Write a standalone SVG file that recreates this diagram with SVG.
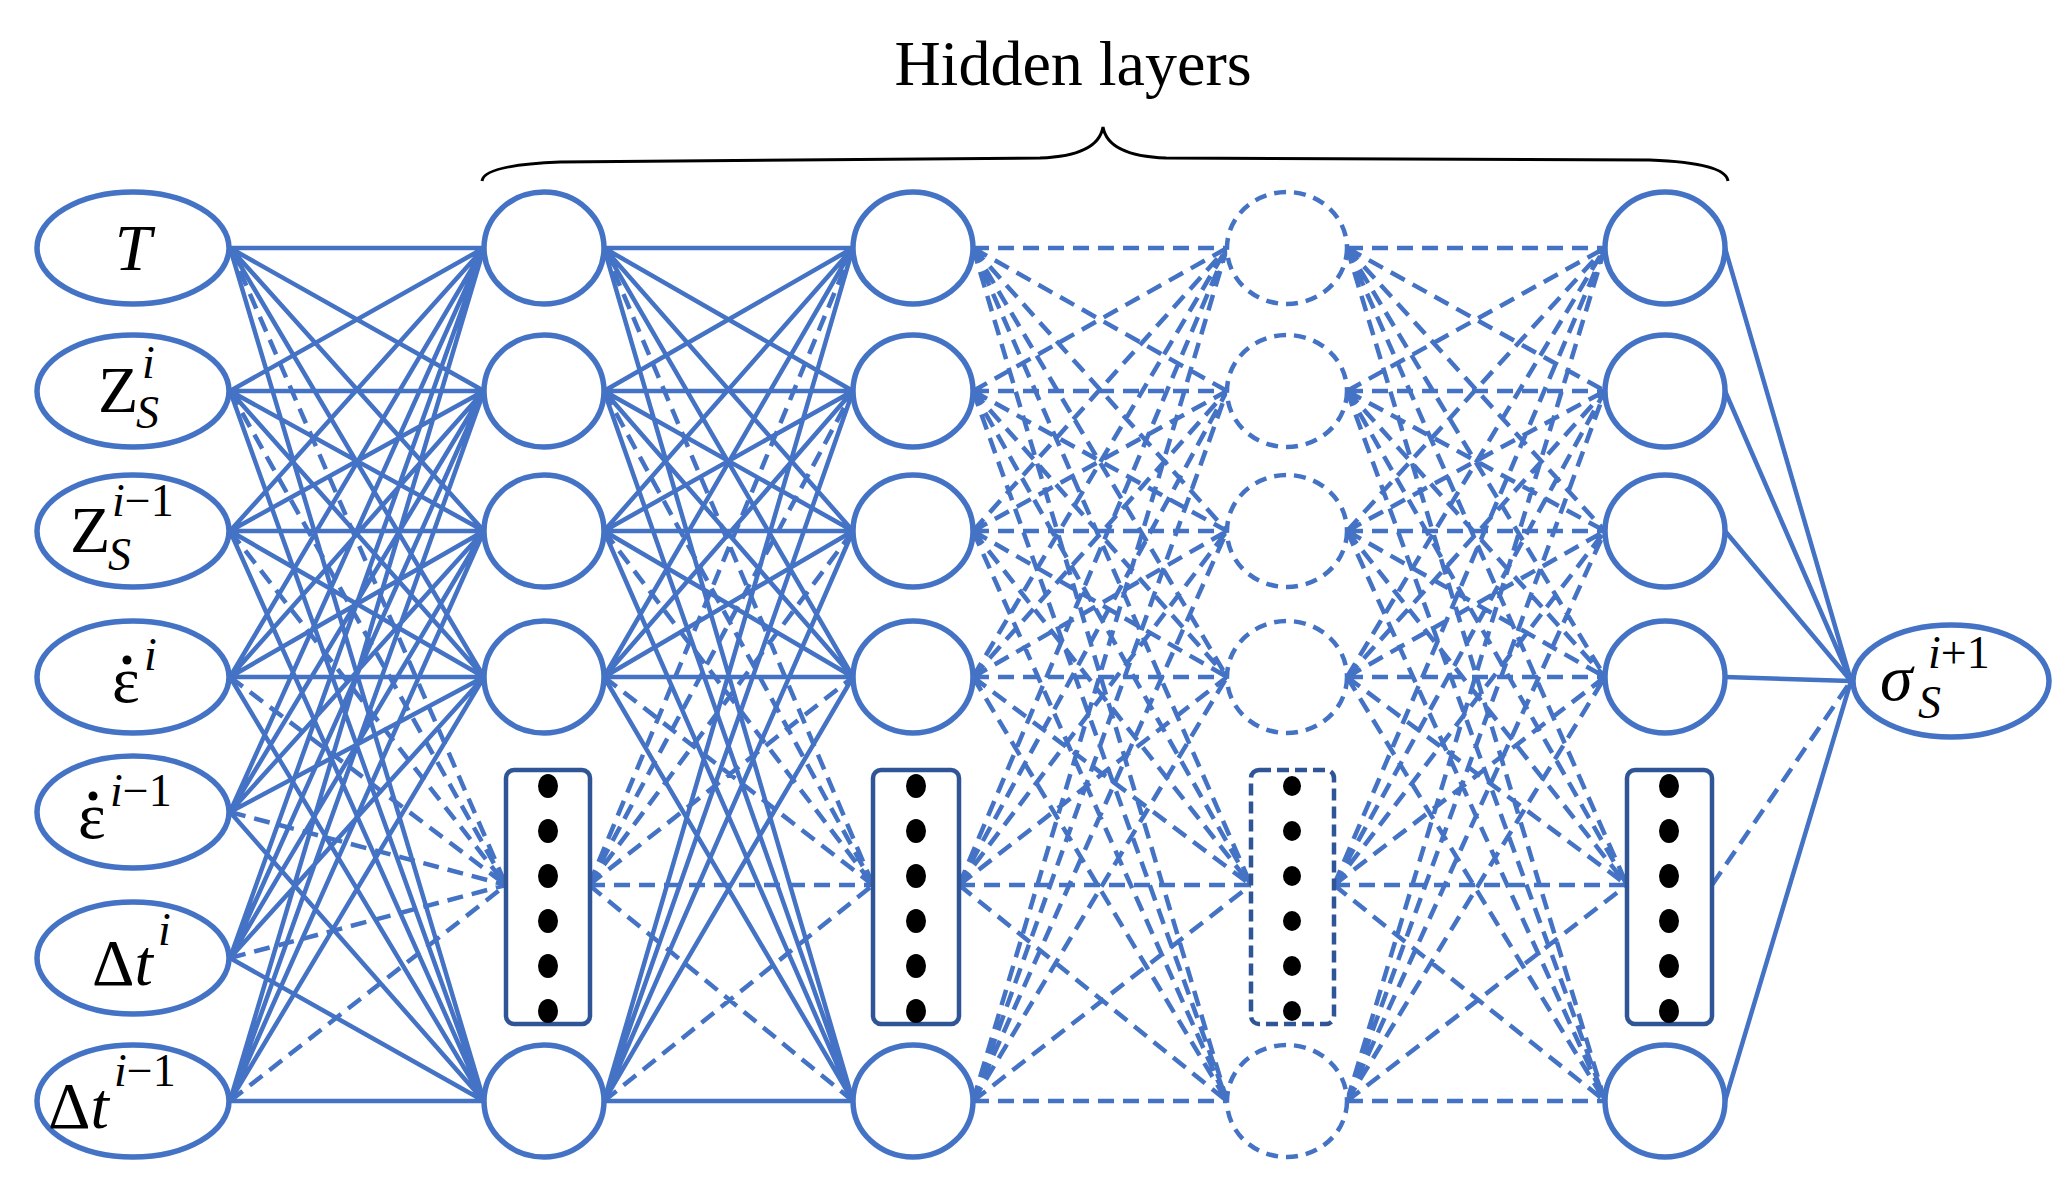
<svg xmlns="http://www.w3.org/2000/svg" width="2070" height="1190" viewBox="0 0 2070 1190">
<style>
.s{fill:none;stroke:#4472C4;stroke-width:4.5}
.d{fill:none;stroke:#4472C4;stroke-width:4.5;stroke-dasharray:16 9}
.n{fill:#fff;stroke:#4472C4;stroke-width:5.5}
.nd{fill:#fff;stroke:#4472C4;stroke-width:4.5;stroke-dasharray:12 8}
.b{fill:#fff;stroke:#2F5597;stroke-width:4.5}
.bd{fill:#fff;stroke:#2F5597;stroke-width:4.5;stroke-dasharray:12 6}
text{font-family:"Liberation Serif","DejaVu Serif",serif;fill:#000}
.lab{font-size:66px}
.sm{font-size:46px}
.it{font-style:italic}
</style>
<rect width="2070" height="1190" fill="#fff"/>
<g id="connectors">
<path class="s" d="M230 248L484 248M230 248L484 391M230 248L484 531M230 248L484 677M230 248L484 1101
M230 391L484 248M230 391L484 391M230 391L484 531M230 391L484 677M230 391L484 1101
M230 531L484 248M230 531L484 391M230 531L484 531M230 531L484 677M230 531L484 1101
M230 677L484 248M230 677L484 391M230 677L484 531M230 677L484 677M230 677L484 1101
M230 812L484 248M230 812L484 391M230 812L484 531M230 812L484 677M230 812L484 1101
M230 958L484 248M230 958L484 391M230 958L484 531M230 958L484 677M230 958L484 1101
M230 1101L484 248M230 1101L484 391M230 1101L484 531M230 1101L484 677M230 1101L484 1101"/>
<path class="d" d="M230 248L506 885M230 391L506 885M230 531L506 885M230 677L506 885M230 812L506 885M230 958L506 885M230 1101L506 885"/>
<path class="s" d="M604 248L853 248M604 248L853 391M604 248L853 531M604 248L853 677M604 248L853 1101
M604 391L853 248M604 391L853 391M604 391L853 531M604 391L853 677M604 391L853 1101
M604 531L853 248M604 531L853 391M604 531L853 531M604 531L853 677M604 531L853 1101
M604 677L853 248M604 677L853 391M604 677L853 531M604 677L853 677M604 677L853 1101
M604 1101L853 248M604 1101L853 391M604 1101L853 531M604 1101L853 677M604 1101L853 1101"/>
<path class="d" d="M604 248L873 885M604 391L873 885M604 531L873 885M604 677L873 885M604 1101L873 885M589 885L873 885
M589 885L853 248M589 885L853 391M589 885L853 531M589 885L853 677M589 885L853 1101"/>
<path class="d" d="M973 248L1227 248M973 248L1227 391M973 248L1227 531M973 248L1227 677M973 248L1227 1101M973 248L1251 885
M973 391L1227 248M973 391L1227 391M973 391L1227 531M973 391L1227 677M973 391L1227 1101M973 391L1251 885
M973 531L1227 248M973 531L1227 391M973 531L1227 531M973 531L1227 677M973 531L1227 1101M973 531L1251 885
M973 677L1227 248M973 677L1227 391M973 677L1227 531M973 677L1227 677M973 677L1227 1101M973 677L1251 885
M973 1101L1227 248M973 1101L1227 391M973 1101L1227 531M973 1101L1227 677M973 1101L1227 1101M973 1101L1251 885
M959 885L1227 248M959 885L1227 391M959 885L1227 531M959 885L1227 677M959 885L1227 1101M959 885L1251 885"/>
<path class="d" d="M1347 248L1605 248M1347 248L1605 391M1347 248L1605 531M1347 248L1605 677M1347 248L1605 1101M1347 248L1627 885
M1347 391L1605 248M1347 391L1605 391M1347 391L1605 531M1347 391L1605 677M1347 391L1605 1101M1347 391L1627 885
M1347 531L1605 248M1347 531L1605 391M1347 531L1605 531M1347 531L1605 677M1347 531L1605 1101M1347 531L1627 885
M1347 677L1605 248M1347 677L1605 391M1347 677L1605 531M1347 677L1605 677M1347 677L1605 1101M1347 677L1627 885
M1347 1101L1605 248M1347 1101L1605 391M1347 1101L1605 531M1347 1101L1605 677M1347 1101L1605 1101M1347 1101L1627 885
M1334 885L1605 248M1334 885L1605 391M1334 885L1605 531M1334 885L1605 677M1334 885L1605 1101M1334 885L1627 885"/>
<path class="s" d="M1725 248L1851 681M1725 391L1851 681M1725 531L1851 681M1725 677L1851 681M1725 1101L1851 681"/>
<path class="d" d="M1712 885L1851 681"/>
</g>
<g id="brace"><path d="M482 181Q484 165 560 162L1040 158Q1098 156 1103 127Q1108 156 1166 158L1650 160Q1726 163 1728 181" fill="none" stroke="#000" stroke-width="3"/>
<text x="1073" y="85" font-size="64" text-anchor="middle">Hidden layers</text></g>
<g id="in_T"><ellipse class="n" cx="133" cy="248" rx="96" ry="56"/><text class="lab it" x="133" y="270" text-anchor="middle">T</text></g>
<g id="in_Z"><ellipse class="n" cx="133" cy="391" rx="96" ry="56"/><text class="lab" x="98" y="412">Z</text><text class="sm it" x="142" y="378">i</text><text class="sm it" x="136" y="428">S</text></g>
<g id="in_Z1"><ellipse class="n" cx="133" cy="531" rx="96" ry="56"/><text class="lab" x="70" y="552">Z</text><text class="sm" x="112" y="516"><tspan class="it">i</tspan>−1</text><text class="sm it" x="108" y="570">S</text></g>
<g id="in_e"><ellipse class="n" cx="133" cy="677" rx="96" ry="56"/><text class="lab" x="112" y="702">ε</text><circle cx="127" cy="660" r="4.5" fill="#000"/><text class="sm it" x="144" y="670">i</text></g>
<g id="in_e1"><ellipse class="n" cx="133" cy="812" rx="96" ry="56"/><text class="lab" x="78" y="838">ε</text><circle cx="93" cy="796" r="4.5" fill="#000"/><text class="sm" x="110" y="806"><tspan class="it">i</tspan>−1</text></g>
<g id="in_t"><ellipse class="n" cx="133" cy="958" rx="96" ry="56"/><text class="lab" x="92" y="985">Δ<tspan class="it">t</tspan></text><text class="sm it" x="158" y="945">i</text></g>
<g id="in_t1"><ellipse class="n" cx="133" cy="1101" rx="96" ry="56"/><text class="lab" x="48" y="1128">Δ<tspan class="it">t</tspan></text><text class="sm" x="114" y="1086"><tspan class="it">i</tspan>−1</text></g>
<g id="h1"><ellipse class="n" cx="544" cy="248" rx="60" ry="56"/><ellipse class="n" cx="544" cy="391" rx="60" ry="56"/><ellipse class="n" cx="544" cy="531" rx="60" ry="56"/><ellipse class="n" cx="544" cy="677" rx="60" ry="56"/><ellipse class="n" cx="544" cy="1101" rx="60" ry="56"/>
<rect class="b" x="506" y="770" width="84" height="254" rx="8"/>
<g fill="#000"><ellipse cx="548" cy="786" rx="10" ry="12"/><ellipse cx="548" cy="831" rx="10" ry="12"/><ellipse cx="548" cy="876" rx="10" ry="12"/><ellipse cx="548" cy="921" rx="10" ry="12"/><ellipse cx="548" cy="966" rx="10" ry="12"/><ellipse cx="548" cy="1011" rx="10" ry="12"/></g></g>
<g id="h2"><ellipse class="n" cx="913" cy="248" rx="60" ry="56"/><ellipse class="n" cx="913" cy="391" rx="60" ry="56"/><ellipse class="n" cx="913" cy="531" rx="60" ry="56"/><ellipse class="n" cx="913" cy="677" rx="60" ry="56"/><ellipse class="n" cx="913" cy="1101" rx="60" ry="56"/>
<rect class="b" x="873" y="770" width="86" height="254" rx="8"/>
<g fill="#000"><ellipse cx="916" cy="786" rx="10" ry="12"/><ellipse cx="916" cy="831" rx="10" ry="12"/><ellipse cx="916" cy="876" rx="10" ry="12"/><ellipse cx="916" cy="921" rx="10" ry="12"/><ellipse cx="916" cy="966" rx="10" ry="12"/><ellipse cx="916" cy="1011" rx="10" ry="12"/></g></g>
<g id="h3"><ellipse class="nd" cx="1287" cy="248" rx="60" ry="56"/><ellipse class="nd" cx="1287" cy="391" rx="60" ry="56"/><ellipse class="nd" cx="1287" cy="531" rx="60" ry="56"/><ellipse class="nd" cx="1287" cy="677" rx="60" ry="56"/><ellipse class="nd" cx="1287" cy="1101" rx="60" ry="56"/>
<rect class="bd" x="1251" y="770" width="83" height="254" rx="8"/>
<g fill="#000"><ellipse cx="1292" cy="786" rx="9" ry="10"/><ellipse cx="1292" cy="831" rx="9" ry="10"/><ellipse cx="1292" cy="876" rx="9" ry="10"/><ellipse cx="1292" cy="921" rx="9" ry="10"/><ellipse cx="1292" cy="966" rx="9" ry="10"/><ellipse cx="1292" cy="1011" rx="9" ry="10"/></g></g>
<g id="h4"><ellipse class="n" cx="1665" cy="248" rx="60" ry="56"/><ellipse class="n" cx="1665" cy="391" rx="60" ry="56"/><ellipse class="n" cx="1665" cy="531" rx="60" ry="56"/><ellipse class="n" cx="1665" cy="677" rx="60" ry="56"/><ellipse class="n" cx="1665" cy="1101" rx="60" ry="56"/>
<rect class="b" x="1627" y="770" width="85" height="254" rx="8"/>
<g fill="#000"><ellipse cx="1669" cy="786" rx="10" ry="12"/><ellipse cx="1669" cy="831" rx="10" ry="12"/><ellipse cx="1669" cy="876" rx="10" ry="12"/><ellipse cx="1669" cy="921" rx="10" ry="12"/><ellipse cx="1669" cy="966" rx="10" ry="12"/><ellipse cx="1669" cy="1011" rx="10" ry="12"/></g></g>
<g id="out"><ellipse class="n" cx="1951" cy="681" rx="98" ry="56"/><text class="lab it" x="1880" y="700">σ</text><text class="sm it" x="1918" y="718">S</text><text class="sm" x="1928" y="668"><tspan class="it">i</tspan>+1</text></g>
</svg>
